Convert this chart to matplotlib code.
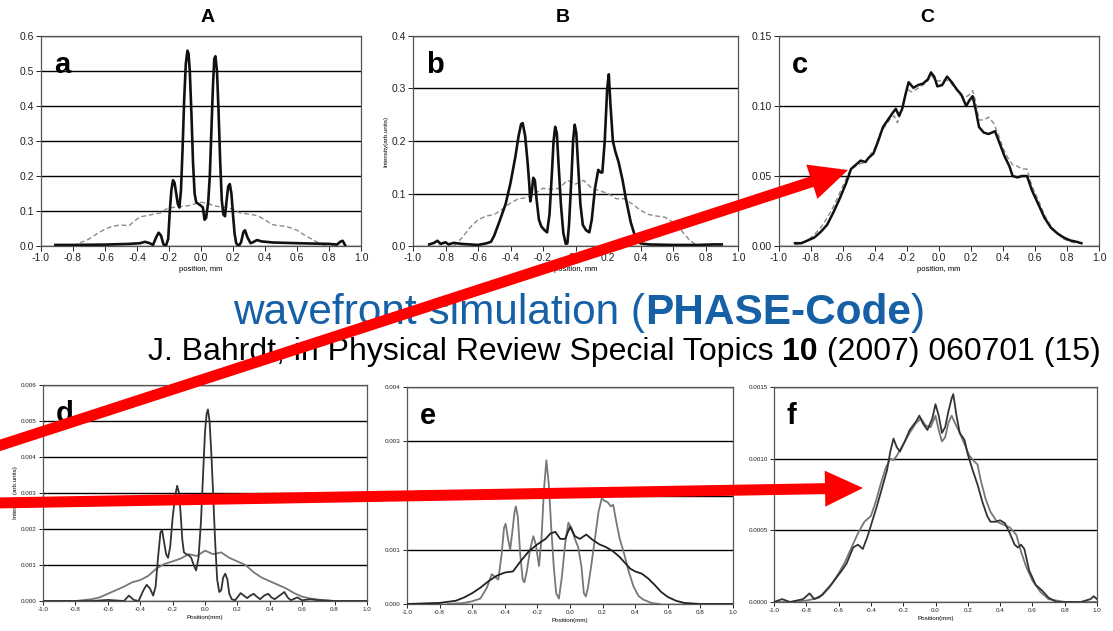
import numpy as np
import matplotlib.pyplot as plt
from matplotlib.patches import FancyArrow

plt.rcParams['font.family'] = ['Liberation Sans', 'DejaVu Sans']

# ---- intensity profiles (position in mm, intensity) ----
a_solid = [(-0.91, 0.003), (-0.8, 0.003), (-0.6, 0.004), (-0.45, 0.006), (-0.38, 0.008), (-0.35, 0.012),
           (-0.32, 0.008), (-0.30, 0.003), (-0.28, 0.025), (-0.265, 0.038), (-0.25, 0.03), (-0.235, 0.005),
           (-0.22, 0.0), (-0.205, 0.02), (-0.195, 0.1), (-0.185, 0.16), (-0.175, 0.188), (-0.165, 0.18),
           (-0.155, 0.15), (-0.145, 0.12), (-0.135, 0.11), (-0.125, 0.16), (-0.115, 0.28), (-0.105, 0.42),
           (-0.095, 0.52), (-0.085, 0.558), (-0.078, 0.55), (-0.07, 0.5), (-0.06, 0.38), (-0.05, 0.24),
           (-0.04, 0.15), (-0.03, 0.125), (-0.015, 0.12), (0.0, 0.115), (0.012, 0.11), (0.022, 0.075),
           (0.032, 0.08), (0.045, 0.125), (0.055, 0.2), (0.065, 0.33), (0.075, 0.46), (0.083, 0.535),
           (0.09, 0.542), (0.1, 0.5), (0.11, 0.38), (0.12, 0.24), (0.13, 0.13), (0.14, 0.09), (0.15, 0.085),
           (0.16, 0.13), (0.17, 0.17), (0.18, 0.177), (0.19, 0.15), (0.2, 0.09), (0.21, 0.035), (0.22, 0.008),
           (0.235, 0.0), (0.25, 0.01), (0.265, 0.04), (0.275, 0.045), (0.29, 0.025), (0.31, 0.008),
           (0.33, 0.012), (0.35, 0.017), (0.38, 0.013), (0.45, 0.01), (0.6, 0.008), (0.8, 0.006),
           (0.85, 0.004), (0.87, 0.012), (0.885, 0.015), (0.9, 0.003)]
a_dashed = [(-0.8, 0.0), (-0.75, 0.01), (-0.7, 0.02), (-0.65, 0.035), (-0.6, 0.048), (-0.55, 0.057),
            (-0.5, 0.06), (-0.45, 0.058), (-0.42, 0.07), (-0.38, 0.083), (-0.33, 0.088), (-0.28, 0.092),
            (-0.25, 0.095), (-0.22, 0.105), (-0.18, 0.11), (-0.12, 0.113), (-0.08, 0.115), (-0.04, 0.12),
            (0.0, 0.125), (0.04, 0.122), (0.08, 0.115), (0.12, 0.112), (0.16, 0.11), (0.2, 0.105),
            (0.24, 0.095), (0.28, 0.092), (0.32, 0.09), (0.36, 0.085), (0.4, 0.075), (0.44, 0.062),
            (0.48, 0.058), (0.52, 0.057), (0.56, 0.052), (0.6, 0.045), (0.65, 0.03), (0.7, 0.018),
            (0.75, 0.005), (0.78, 0.0)]

b_solid = [(-0.9, 0.003), (-0.87, 0.006), (-0.85, 0.01), (-0.83, 0.004), (-0.8, 0.007), (-0.78, 0.003),
           (-0.75, 0.006), (-0.7, 0.004), (-0.6, 0.002), (-0.55, 0.005), (-0.52, 0.008), (-0.5, 0.02),
           (-0.47, 0.045), (-0.43, 0.08), (-0.4, 0.12), (-0.37, 0.17), (-0.35, 0.21), (-0.335, 0.232),
           (-0.325, 0.234), (-0.31, 0.21), (-0.295, 0.16), (-0.285, 0.12), (-0.278, 0.085), (-0.27, 0.1),
           (-0.26, 0.13), (-0.25, 0.125), (-0.24, 0.09), (-0.225, 0.05), (-0.21, 0.037), (-0.19, 0.03),
           (-0.175, 0.026), (-0.16, 0.06), (-0.145, 0.14), (-0.135, 0.2), (-0.125, 0.227), (-0.115, 0.215),
           (-0.105, 0.16), (-0.09, 0.08), (-0.075, 0.025), (-0.06, 0.004), (-0.05, 0.005), (-0.04, 0.04),
           (-0.025, 0.13), (-0.015, 0.2), (-0.005, 0.231), (0.005, 0.215), (0.015, 0.16), (0.03, 0.08),
           (0.045, 0.04), (0.065, 0.03), (0.085, 0.026), (0.1, 0.05), (0.12, 0.11), (0.14, 0.145),
           (0.155, 0.14), (0.165, 0.14), (0.18, 0.2), (0.195, 0.3), (0.205, 0.327), (0.215, 0.27),
           (0.23, 0.2), (0.245, 0.18), (0.265, 0.16), (0.29, 0.125), (0.31, 0.09), (0.34, 0.045),
           (0.37, 0.015), (0.4, 0.005), (0.45, 0.003), (0.6, 0.002), (0.75, 0.002), (0.85, 0.003), (0.9, 0.003)]
b_dashed = [(-0.75, 0.0), (-0.7, 0.015), (-0.65, 0.035), (-0.6, 0.05), (-0.55, 0.057), (-0.5, 0.06),
            (-0.45, 0.07), (-0.4, 0.082), (-0.35, 0.09), (-0.3, 0.092), (-0.25, 0.1), (-0.2, 0.11),
            (-0.15, 0.108), (-0.1, 0.11), (-0.05, 0.125), (0.0, 0.118), (0.05, 0.125), (0.1, 0.11),
            (0.15, 0.105), (0.2, 0.1), (0.25, 0.09), (0.3, 0.09), (0.35, 0.08), (0.4, 0.068), (0.45, 0.06),
            (0.5, 0.057), (0.55, 0.055), (0.6, 0.045), (0.65, 0.03), (0.7, 0.012), (0.75, 0.0)]

c_solid = [(-0.9, 0.002), (-0.86, 0.002), (-0.82, 0.004), (-0.78, 0.006), (-0.74, 0.01), (-0.7, 0.015),
           (-0.66, 0.024), (-0.62, 0.034), (-0.58, 0.045), (-0.55, 0.055), (-0.52, 0.058), (-0.49, 0.061),
           (-0.46, 0.06), (-0.44, 0.063), (-0.41, 0.066), (-0.38, 0.075), (-0.35, 0.085), (-0.32, 0.09),
           (-0.29, 0.095), (-0.27, 0.098), (-0.25, 0.093), (-0.23, 0.098), (-0.21, 0.108), (-0.19, 0.117),
           (-0.16, 0.113), (-0.13, 0.115), (-0.1, 0.116), (-0.07, 0.119), (-0.05, 0.124), (-0.03, 0.121),
           (-0.01, 0.114), (0.02, 0.115), (0.05, 0.121), (0.08, 0.117), (0.11, 0.112), (0.14, 0.108),
           (0.17, 0.1), (0.19, 0.104), (0.21, 0.107), (0.23, 0.097), (0.25, 0.085), (0.28, 0.081),
           (0.31, 0.08), (0.35, 0.082), (0.38, 0.073), (0.41, 0.064), (0.44, 0.057), (0.46, 0.05),
           (0.49, 0.049), (0.52, 0.05), (0.55, 0.05), (0.58, 0.04), (0.62, 0.03), (0.66, 0.02),
           (0.7, 0.013), (0.74, 0.009), (0.78, 0.006), (0.82, 0.004), (0.86, 0.003), (0.89, 0.002)]
c_dashed = [(-0.9, 0.001), (-0.86, 0.002), (-0.82, 0.004), (-0.78, 0.008), (-0.74, 0.013), (-0.7, 0.02),
            (-0.66, 0.028), (-0.62, 0.038), (-0.58, 0.048), (-0.55, 0.055), (-0.52, 0.057), (-0.49, 0.059),
            (-0.46, 0.059), (-0.43, 0.065), (-0.4, 0.07), (-0.37, 0.08), (-0.34, 0.085), (-0.31, 0.09),
            (-0.28, 0.093), (-0.26, 0.088), (-0.23, 0.098), (-0.2, 0.112), (-0.17, 0.11), (-0.14, 0.112),
            (-0.1, 0.115), (-0.07, 0.118), (-0.05, 0.122), (-0.02, 0.118), (0.01, 0.118), (0.04, 0.119),
            (0.07, 0.117), (0.1, 0.113), (0.13, 0.108), (0.16, 0.106), (0.19, 0.108), (0.21, 0.111),
            (0.23, 0.103), (0.25, 0.09), (0.28, 0.09), (0.31, 0.092), (0.34, 0.088), (0.37, 0.08),
            (0.4, 0.07), (0.43, 0.063), (0.46, 0.058), (0.49, 0.057), (0.52, 0.055), (0.55, 0.055),
            (0.58, 0.043), (0.62, 0.033), (0.66, 0.022), (0.7, 0.014), (0.74, 0.009), (0.78, 0.005),
            (0.82, 0.003), (0.86, 0.002), (0.89, 0.002)]

d_osc = [(-1.0, 0.0), (-0.7, 0.0), (-0.6, 0.00003), (-0.5, 0.0), (-0.47, 0.00015), (-0.44, 0.00003),
         (-0.41, 0.0), (-0.38, 0.0003), (-0.36, 0.00045), (-0.34, 0.00035), (-0.32, 0.00015), (-0.305, 0.0004),
         (-0.29, 0.0012), (-0.275, 0.0019), (-0.265, 0.00197), (-0.255, 0.0017), (-0.24, 0.0013),
         (-0.228, 0.0012), (-0.215, 0.0015), (-0.2, 0.0023), (-0.185, 0.0029), (-0.172, 0.0032),
         (-0.16, 0.003), (-0.15, 0.0024), (-0.14, 0.0017), (-0.13, 0.00135), (-0.115, 0.0013),
         (-0.1, 0.00127), (-0.085, 0.0012), (-0.07, 0.001), (-0.055, 0.00085), (-0.04, 0.0012),
         (-0.025, 0.0022), (-0.01, 0.0037), (0.0, 0.0047), (0.01, 0.0052), (0.018, 0.00532), (0.028, 0.005),
         (0.038, 0.0042), (0.05, 0.003), (0.062, 0.0017), (0.075, 0.0006), (0.088, 0.00025), (0.1, 0.0003),
         (0.112, 0.00065), (0.125, 0.00076), (0.138, 0.0006), (0.15, 0.0002), (0.165, 0.00005),
         (0.185, 0.00002), (0.2, 0.0001), (0.22, 0.00022), (0.24, 0.00015), (0.26, 0.00008), (0.28, 0.00015),
         (0.3, 0.0002), (0.32, 0.00012), (0.34, 0.00005), (0.365, 0.00015), (0.39, 0.0002), (0.41, 0.0001),
         (0.43, 0.00005), (0.46, 0.00015), (0.49, 0.00025), (0.51, 0.0001), (0.53, 0.00002), (0.57, 0.0001),
         (0.6, 0.00002), (0.65, 0.00005), (0.7, 0.00002), (0.8, 0.0), (1.0, 0.0)]
d_smooth = [(-1.0, 0.0), (-0.8, 0.0), (-0.7, 0.00005), (-0.65, 0.0001), (-0.6, 0.0002), (-0.55, 0.0003),
            (-0.5, 0.0004), (-0.45, 0.00052), (-0.4, 0.00058), (-0.35, 0.0007), (-0.3, 0.0009),
            (-0.25, 0.00103), (-0.2, 0.0011), (-0.15, 0.00118), (-0.1, 0.0013), (-0.05, 0.00125),
            (0.0, 0.0014), (0.05, 0.0013), (0.1, 0.00135), (0.15, 0.0012), (0.2, 0.0011), (0.25, 0.001),
            (0.3, 0.0008), (0.35, 0.00065), (0.4, 0.00055), (0.45, 0.00045), (0.5, 0.00035), (0.55, 0.00022),
            (0.6, 0.00012), (0.65, 0.00007), (0.7, 0.00004), (0.8, 0.0), (1.0, 0.0)]

e_osc = [(-0.75, 0.0), (-0.65, 0.00002), (-0.6, 0.00005), (-0.55, 0.0001), (-0.51, 0.0003), (-0.48, 0.00055),
         (-0.46, 0.0005), (-0.44, 0.00045), (-0.42, 0.0009), (-0.405, 0.0014), (-0.395, 0.00148),
         (-0.38, 0.0012), (-0.367, 0.001), (-0.355, 0.0013), (-0.34, 0.0017), (-0.332, 0.0018),
         (-0.32, 0.0016), (-0.305, 0.0009), (-0.29, 0.00045), (-0.28, 0.0004), (-0.265, 0.0006),
         (-0.245, 0.001), (-0.225, 0.00125), (-0.21, 0.0011), (-0.19, 0.0007), (-0.175, 0.0012),
         (-0.16, 0.0021), (-0.145, 0.00265), (-0.13, 0.0022), (-0.115, 0.0014), (-0.1, 0.0007),
         (-0.085, 0.0002), (-0.068, 0.0001), (-0.05, 0.0005), (-0.03, 0.0011), (-0.01, 0.0015),
         (0.01, 0.0014), (0.03, 0.0012), (0.05, 0.00105), (0.07, 0.0007), (0.085, 0.0002), (0.097, 0.00014),
         (0.11, 0.0003), (0.13, 0.0007), (0.155, 0.00125), (0.175, 0.0017), (0.195, 0.00195),
         (0.212, 0.0019), (0.23, 0.00188), (0.25, 0.0018), (0.265, 0.00183), (0.285, 0.0015),
         (0.305, 0.0012), (0.33, 0.00095), (0.36, 0.0006), (0.39, 0.00032), (0.42, 0.00015),
         (0.45, 0.00008), (0.5, 0.00002), (0.55, 0.0)]
e_smooth = [(-1.0, 0.0), (-0.8, 0.00002), (-0.7, 0.00006), (-0.65, 0.00012), (-0.6, 0.0002), (-0.55, 0.0003),
            (-0.5, 0.00042), (-0.45, 0.00052), (-0.4, 0.00058), (-0.35, 0.0006), (-0.3, 0.0008),
            (-0.25, 0.00098), (-0.2, 0.0011), (-0.15, 0.0012), (-0.12, 0.0013), (-0.09, 0.00133),
            (-0.06, 0.0012), (-0.03, 0.0012), (0.0, 0.00142), (0.03, 0.00125), (0.06, 0.0012), (0.1, 0.00128),
            (0.14, 0.00118), (0.18, 0.0011), (0.22, 0.00105), (0.26, 0.00098), (0.3, 0.00088), (0.34, 0.00075),
            (0.37, 0.00065), (0.4, 0.0006), (0.44, 0.00056), (0.48, 0.00047), (0.52, 0.00035), (0.56, 0.00022),
            (0.6, 0.00013), (0.65, 0.00006), (0.7, 0.00002), (0.8, 0.0), (1.0, 0.0)]

f_first = [(-1.0, 0.0), (-0.95, 0.00002), (-0.9, 0.0), (-0.82, 0.00002), (-0.78, 0.00006), (-0.75, 0.00002),
           (-0.7, 0.00005), (-0.66, 0.0001), (-0.62, 0.00016), (-0.58, 0.00022), (-0.55, 0.00027),
           (-0.51, 0.00038), (-0.48, 0.0004), (-0.45, 0.00037), (-0.42, 0.00046), (-0.39, 0.00057),
           (-0.36, 0.00068), (-0.33, 0.0008), (-0.3, 0.00092), (-0.28, 0.00105), (-0.26, 0.00114),
           (-0.24, 0.00108), (-0.22, 0.00105), (-0.19, 0.00112), (-0.16, 0.0012), (-0.12, 0.00126),
           (-0.1, 0.0013), (-0.08, 0.00125), (-0.05, 0.0012), (-0.02, 0.00128), (0.0, 0.00138),
           (0.02, 0.0013), (0.04, 0.00118), (0.06, 0.00122), (0.08, 0.00133), (0.1, 0.00142), (0.11, 0.00145),
           (0.13, 0.0013), (0.15, 0.00118), (0.18, 0.00113), (0.2, 0.00103), (0.23, 0.00092), (0.26, 0.00082),
           (0.29, 0.0007), (0.32, 0.0006), (0.34, 0.00056), (0.37, 0.00056), (0.4, 0.00057), (0.43, 0.00055),
           (0.46, 0.00048), (0.49, 0.0004), (0.51, 0.00038), (0.53, 0.0004), (0.55, 0.00037), (0.58, 0.00022),
           (0.62, 0.00012), (0.66, 0.00008), (0.7, 0.00003), (0.75, 0.0), (0.9, 0.0), (0.96, 0.00002),
           (0.98, 0.00004), (1.0, 0.00002)]
f_second = [(-1.0, 0.0), (-0.9, 0.0), (-0.8, 0.00001), (-0.72, 0.00003), (-0.68, 0.00008), (-0.64, 0.00013),
            (-0.6, 0.0002), (-0.56, 0.00028), (-0.52, 0.00038), (-0.48, 0.00048), (-0.44, 0.00056),
            (-0.4, 0.0006), (-0.37, 0.0007), (-0.34, 0.00082), (-0.31, 0.00093), (-0.28, 0.001),
            (-0.26, 0.00099), (-0.24, 0.00102), (-0.2, 0.0011), (-0.16, 0.00118), (-0.12, 0.00125),
            (-0.09, 0.00128), (-0.06, 0.00123), (-0.03, 0.00122), (0.0, 0.0013), (0.02, 0.0012),
            (0.04, 0.00112), (0.06, 0.00115), (0.08, 0.00125), (0.1, 0.0013), (0.12, 0.00125), (0.15, 0.00118),
            (0.18, 0.0011), (0.21, 0.00102), (0.24, 0.00098), (0.26, 0.00096), (0.28, 0.00085), (0.31, 0.00072),
            (0.34, 0.00063), (0.38, 0.00056), (0.42, 0.00054), (0.46, 0.00052), (0.5, 0.00047), (0.53, 0.00035),
            (0.56, 0.00025), (0.6, 0.00015), (0.65, 0.00007), (0.7, 0.00002), (0.8, 0.0), (1.0, 0.0)]

x_ticks = [-1.0, -0.8, -0.6, -0.4, -0.2, 0.0, 0.2, 0.4, 0.6, 0.8, 1.0]

W, H = 1113, 631
fig = plt.figure(figsize=(W / 100, H / 100), dpi=100)


def box(l, t, r, b):
    # pixel box (left, top, right, bottom) -> figure fraction rect
    return [l / W, 1 - b / H, (r - l) / W, (b - t) / H]


def panel(rect, curves, ymax, ystep, yfmt, xlabel, letter, small, ylabel=None):
    ax = fig.add_axes(box(*rect))
    for pts, color, lw, ls in curves:
        x, y = zip(*pts)
        ax.plot(x, y, color=color, lw=lw, ls=ls, zorder=3)
    yt = np.arange(0, ymax + ystep / 2, ystep)
    ax.set_xlim(-1.0, 1.0)
    ax.set_ylim(0, ymax)
    ax.set_xticks(x_ticks)
    ax.set_yticks(yt)
    ax.set_xticklabels([f'{v:.1f}' for v in x_ticks])
    ax.set_yticklabels([yfmt.format(v) for v in yt])
    ax.set_axisbelow(True)
    ax.yaxis.grid(True, color='black', lw=1.0)
    fs = 4.5 if small else 7.5
    ax.tick_params(labelsize=fs, length=3 if small else 3.5, width=0.7, pad=1.5, colors='#222')
    for s in ax.spines.values():
        s.set_color('#555')
        s.set_linewidth(0.9)
    ax.set_xlabel(xlabel, fontsize=4.5 if small else 5.5, labelpad=2)
    if ylabel:
        ax.set_ylabel(ylabel, fontsize=4.5, labelpad=2)
    ax.text(0.04, 0.93, letter, transform=ax.transAxes, fontsize=21, fontweight='bold',
            ha='left', va='top')
    return ax


dash = (0, (3.5, 2))
panel((41, 36, 361, 246), [(a_dashed, '#8a8a8a', 1.0, dash), (a_solid, '#111', 1.9, '-')],
      0.6, 0.1, '{:.1f}', 'position, mm', 'a', False)
panel((413, 36, 738, 246), [(b_dashed, '#8a8a8a', 1.0, dash), (b_solid, '#111', 1.9, '-')],
      0.4, 0.1, '{:.1f}', 'position, mm', 'b', False, ylabel='Intensity(arb.units)')
panel((779, 36, 1099, 246), [(c_dashed, '#8a8a8a', 1.0, dash), (c_solid, '#111', 1.8, '-')],
      0.15, 0.05, '{:.2f}', 'position, mm', 'c', False)
panel((43, 385, 367, 601), [(d_smooth, '#777', 1.3, '-'), (d_osc, '#333', 1.3, '-')],
      0.006, 0.001, '{:.3f}', 'Position(mm)', 'd', True, ylabel='Intensity (arb.units)')
panel((407, 387, 733, 604), [(e_osc, '#777', 1.3, '-'), (e_smooth, '#222', 1.3, '-')],
      0.004, 0.001, '{:.3f}', 'Position(mm)', 'e', True)
panel((774, 387, 1097, 602), [(f_second, '#777', 1.3, '-'), (f_first, '#333', 1.3, '-')],
      0.0015, 0.0005, '{:.4f}', 'Position(mm)', 'f', True)

for s, x in [('A', 208), ('B', 563), ('C', 927)]:
    fig.text(x / W, 1 - 18 / H, s, fontsize=14, fontweight='bold', ha='center', va='center')

# caption lines, built from pieces so the bold parts sit inline
renderer = fig.canvas.get_renderer()


def run_text(pieces, x0, y, **kw):
    x = x0
    for s, weight in pieces:
        t = fig.text(x / W, 1 - y / H, s, fontweight=weight, ha='left', va='center', **kw)
        x += t.get_window_extent(renderer=renderer).width


run_text([('wavefront simulation (', 'normal'), ('PHASE-Code', 'bold'), (')', 'normal')],
         233, 313, fontsize=30.5, color='#1660a6')
run_text([('J. Bahrdt, in Physical Review Special Topics ', 'normal'), ('10', 'bold'),
          (' (2007) 060701 (15)', 'normal')], 148, 352, fontsize=23, color='black')

# red arrows on top of everything
ov = fig.add_axes([0, 0, 1, 1])
ov.set_xlim(0, W)
ov.set_ylim(H, 0)
ov.axis('off')
ov.set_zorder(10)
for x0, y0, x1, y1 in [(-5, 447, 848, 170), (-5, 503, 863, 488)]:
    ov.add_patch(FancyArrow(x0, y0, x1 - x0, y1 - y0, width=11, head_width=36, head_length=38,
                            length_includes_head=True, color='#ff0000', lw=0))

fig.savefig('out.png', dpi=100)
